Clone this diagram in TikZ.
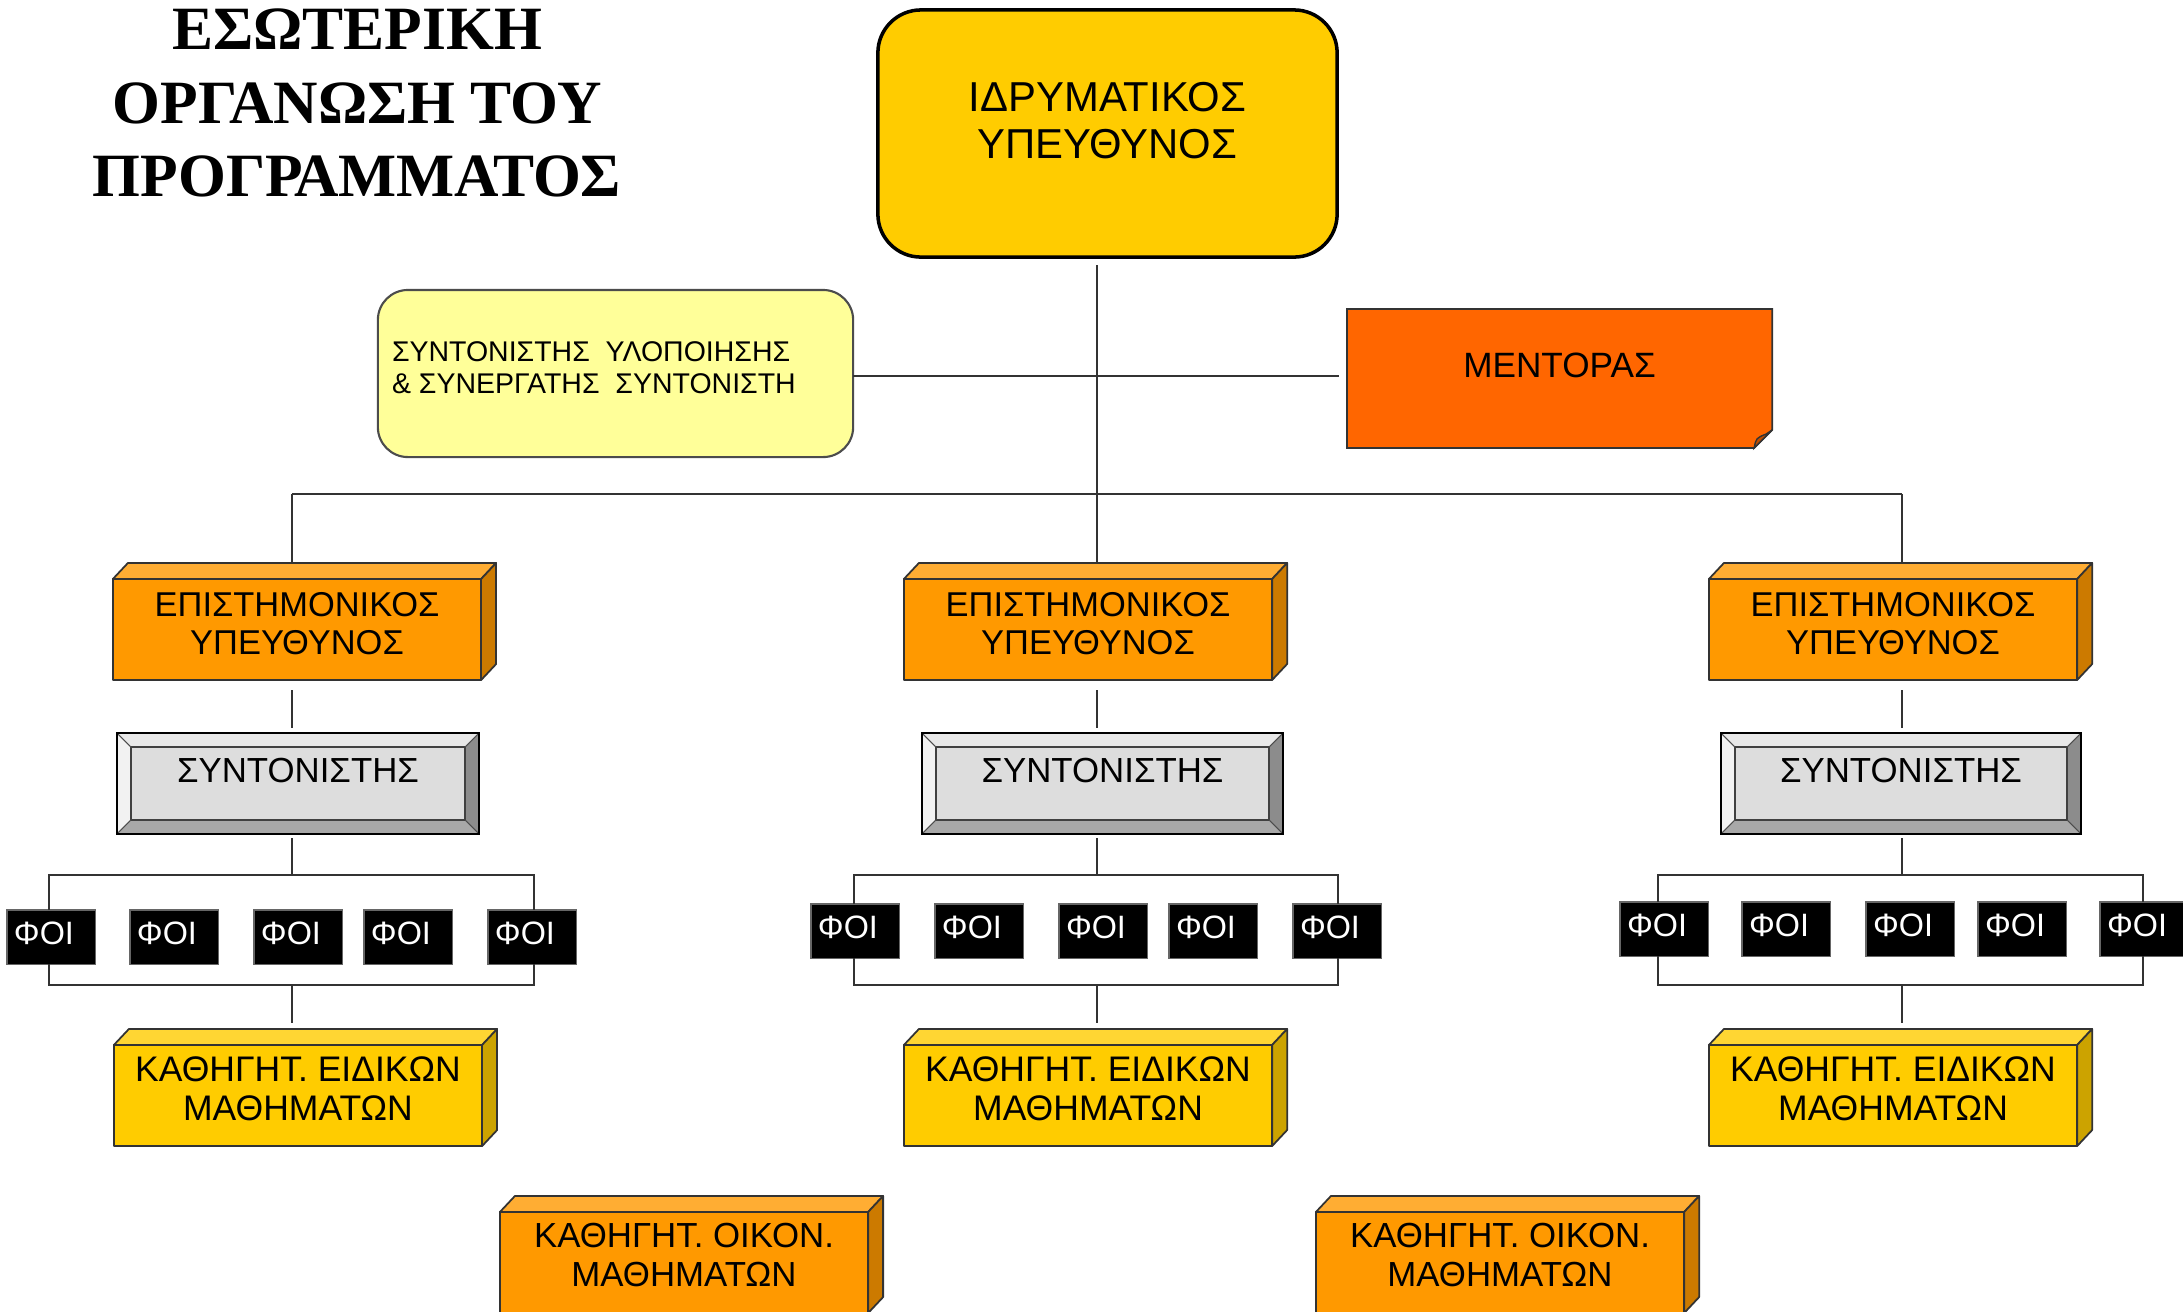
\documentclass[tikz,border=0pt]{standalone}
\usepackage{fontspec}
\setmainfont{Liberation Sans}
\newfontfamily\titlefont{Liberation Serif}
\usetikzlibrary{calc}
\definecolor{irfill}{HTML}{FFCC00}
\definecolor{yelfill}{HTML}{FFFF99}
\definecolor{mentfill}{HTML}{FF6600}
\definecolor{mentfold}{HTML}{C04D00}
\definecolor{orfront}{HTML}{FF9900}
\definecolor{ortop}{HTML}{FFAD33}
\definecolor{orside}{HTML}{CC7A00}
\definecolor{yefront}{HTML}{FFCC00}
\definecolor{yetop}{HTML}{FFD633}
\definecolor{yeside}{HTML}{CCA300}
\definecolor{bvface}{HTML}{DDDDDD}
\definecolor{bvtopc}{HTML}{E8E8E8}
\definecolor{bvleftc}{HTML}{F2F2F2}
\definecolor{bvrightc}{HTML}{8C8C8C}
\definecolor{bvbotc}{HTML}{A8A8A8}
\definecolor{linec}{HTML}{333333}
\newcommand\myfs[2]{\fontsize{#1}{#2}\selectfont}
\newcommand\cubefaces[3]{%
  \filldraw[fill=#2,cubeedge] (#1.north west) -- ++(15,-16) -- ($(#1.north east)+(15,-16)$) -- (#1.north east) -- cycle;
  \filldraw[fill=#3,cubeedge] (#1.north east) -- ++(15,-16) -- ($(#1.south east)+(15,-16)$) -- (#1.south east) -- cycle;}
\newcommand\bevelfaces[1]{%
  \fill[bvtopc] (#1.north west) -- (#1.north east) -- ($(#1.north east)+(-14,14)$) -- ($(#1.north west)+(14,14)$) -- cycle;
  \fill[bvleftc] (#1.north west) -- ($(#1.north west)+(14,14)$) -- ($(#1.south west)+(14,-14)$) -- (#1.south west) -- cycle;
  \fill[bvrightc] (#1.north east) -- ($(#1.north east)+(-14,14)$) -- ($(#1.south east)+(-14,-14)$) -- (#1.south east) -- cycle;
  \fill[bvbotc] (#1.south west) -- ($(#1.south west)+(14,-14)$) -- ($(#1.south east)+(-14,-14)$) -- (#1.south east) -- cycle;
  \filldraw[fill=bvface,draw=black!75,line width=0.4pt] ($(#1.north west)+(14,14)$) rectangle ($(#1.south east)+(-14,-14)$);
  \draw[black!70,line width=0.3pt] (#1.north west) -- ($(#1.north west)+(14,14)$) (#1.north east) -- ($(#1.north east)+(-14,14)$) (#1.south west) -- ($(#1.south west)+(14,-14)$) (#1.south east) -- ($(#1.south east)+(-14,-14)$);
  \draw[black,line width=0.6pt] (#1.north west) rectangle (#1.south east);}
\tikzset{
  conn/.style={draw=linec,line width=0.6pt},
  cubeedge/.style={draw=black!80,line width=0.5pt,line join=round},
  basebox/.style={outer sep=0pt,inner sep=0pt,align=center},
  epibox/.style={basebox,fill=orfront,cubeedge,minimum width=3.68cm,minimum height=1.01cm,font=\myfs{9.8}{10.8},text depth=0.13cm},
  kathbox/.style={basebox,fill=yefront,cubeedge,minimum width=3.68cm,minimum height=1.01cm,font=\myfs{10.1}{11.1},text depth=0.14cm},
  oikbox/.style={basebox,fill=orfront,cubeedge,minimum width=3.68cm,minimum height=1.01cm,font=\myfs{9.9}{11.1},text depth=0.16cm},
  syntbox/.style={basebox,minimum height=1.01cm,font=\myfs{9.9}{11},text depth=0.26cm},
  foibox/.style={outer sep=0pt,inner xsep=0.07cm,inner ysep=0pt,fill=black,draw=black!60,line width=0.3pt,
     minimum width=0.88cm,text width=0.74cm,align=left,minimum height=0.54cm,text=white,font=\myfs{9.2}{10},text depth=0.08cm},
}
\begin{document}
\begin{tikzpicture}[x=0.01cm,y=-0.01cm]
\useasboundingbox (0,0) rectangle (2183,1311);
\fill[white] (0,0) rectangle (2183,1311);

% title
\node[basebox,font={\titlefont\bfseries\myfs{17.5}{21}}] (title) at (357,103) {ΕΣΩΤΕΡΙΚΗ\\ΟΡΓΑΝΩΣΗ ΤΟΥ\\ΠΡΟΓΡΑΜΜΑΤΟΣ};

% top box
\node[basebox,fill=irfill,draw=black,line width=1pt,rounded corners=0.43cm,minimum width=4.59cm,minimum height=2.47cm,
  font=\myfs{11.9}{13.4},text depth=0.26cm] (ir) at (1107.5,133.5) {ΙΔΡΥΜΑΤΙΚΟΣ\\ΥΠΕΥΘΥΝΟΣ};

% implementation coordinator
\node[outer sep=0pt,inner sep=0pt,fill=yelfill,draw=black!70,line width=0.6pt,rounded corners=0.3cm,
  minimum width=4.75cm,minimum height=1.67cm] (yel) at (615.5,373.5) {};
\node[outer sep=0pt,inner sep=0pt,anchor=west,align=left,font=\myfs{8.1}{9.1}] (yeltxt) at (392,368)
  {ΣΥΝΤΟΝΙΣΤΗΣ\ \ ΥΛΟΠΟΙΗΣΗΣ\\\&\ ΣΥΝΕΡΓΑΤΗΣ\ \ ΣΥΝΤΟΝΙΣΤΗ};

% mentor
\node[basebox,minimum width=4.25cm,minimum height=1.39cm] (ment) at (1559.5,378.5) {};
\filldraw[fill=mentfill,draw=black!80,line width=0.5pt] (ment.north west) -- (ment.north east) -- ($(ment.south east)+(0,-18)$) -- ($(ment.south east)+(-18,0)$) -- (ment.south west) -- cycle;
\filldraw[fill=mentfold,draw=black!80,line width=0.4pt] ($(ment.south east)+(0,-18)$) -- ($(ment.south east)+(-18,0)$) .. controls ($(ment.south east)+(-16,-10)$) .. ($(ment.south east)+(-6,-14)$) -- cycle;
\node[basebox,font=\myfs{10}{11},text depth=0.27cm] (menttxt) at (ment.center) {ΜΕΝΤΟΡΑΣ};

% connectors at top
\coordinate (bus1) at (292,494);
\coordinate (bus2) at (1097,494);
\coordinate (bus3) at (1902,494);
\coordinate (hj) at (1097,376);
\draw[conn] ($(ir.south -| bus2)+(0,8)$) -- (bus2);
\draw[conn] (yel.east |- hj) -- ($(ment.west |- hj)+(-8,0)$);
\draw[conn] (bus1) -- (bus3);

% columns
\node[epibox] (epi1) at (297,629.5) {ΕΠΙΣΤΗΜΟΝΙΚΟΣ\\ΥΠΕΥΘΥΝΟΣ};
\node[epibox] (epi2) at (1088,629.5) {ΕΠΙΣΤΗΜΟΝΙΚΟΣ\\ΥΠΕΥΘΥΝΟΣ};
\node[epibox] (epi3) at (1893,629.5) {ΕΠΙΣΤΗΜΟΝΙΚΟΣ\\ΥΠΕΥΘΥΝΟΣ};
\cubefaces{epi1}{ortop}{orside}
\cubefaces{epi2}{ortop}{orside}
\cubefaces{epi3}{ortop}{orside}

\node[syntbox,minimum width=3.62cm] (synt1) at (298,783.5) {};
\node[syntbox,minimum width=3.61cm] (synt2) at (1102.5,783.5) {};
\node[syntbox,minimum width=3.60cm] (synt3) at (1901,783.5) {};
\bevelfaces{synt1}
\bevelfaces{synt2}
\bevelfaces{synt3}
\node[syntbox] (synt1t) at (synt1.center) {ΣΥΝΤΟΝΙΣΤΗΣ};
\node[syntbox] (synt2t) at (synt2.center) {ΣΥΝΤΟΝΙΣΤΗΣ};
\node[syntbox] (synt3t) at (synt3.center) {ΣΥΝΤΟΝΙΣΤΗΣ};

\node[kathbox] (kath1) at (298,1095.5) {ΚΑΘΗΓΗΤ. ΕΙΔΙΚΩΝ\\ΜΑΘΗΜΑΤΩΝ};
\node[kathbox] (kath2) at (1088,1095.5) {ΚΑΘΗΓΗΤ. ΕΙΔΙΚΩΝ\\ΜΑΘΗΜΑΤΩΝ};
\node[kathbox] (kath3) at (1893,1095.5) {ΚΑΘΗΓΗΤ. ΕΙΔΙΚΩΝ\\ΜΑΘΗΜΑΤΩΝ};
\cubefaces{kath1}{yetop}{yeside}
\cubefaces{kath2}{yetop}{yeside}
\cubefaces{kath3}{yetop}{yeside}

\node[oikbox] (oik1) at (684,1262.5) {ΚΑΘΗΓΗΤ. ΟΙΚΟΝ.\\ΜΑΘΗΜΑΤΩΝ};
\node[oikbox] (oik2) at (1500,1262.5) {ΚΑΘΗΓΗΤ. ΟΙΚΟΝ.\\ΜΑΘΗΜΑΤΩΝ};
\cubefaces{oik1}{ortop}{orside}
\cubefaces{oik2}{ortop}{orside}

% FOI rows
\foreach \c/\yt/\xa/\xb/\xc/\xd/\xe in {1/910/7/130/254/364/488, 2/904/811/935/1059/1169/1293, 3/902/1620/1742/1866/1978/2100}{
  \node[foibox] (foi\c a) at (\xa+44,\yt+27) {ΦΟΙ};
  \node[foibox] (foi\c b) at (\xb+44,\yt+27) {ΦΟΙ};
  \node[foibox] (foi\c c) at (\xc+44,\yt+27) {ΦΟΙ};
  \node[foibox] (foi\c d) at (\xd+44,\yt+27) {ΦΟΙ};
  \node[foibox] (foi\c e) at (\xe+44,\yt+27) {ΦΟΙ};
}

% column connectors
\foreach \c/\bx/\fl/\fr in {1/292/49/534, 2/1097/854/1338, 3/1902/1658/2143}{
  \coordinate (ft\c) at (\bx,875);
  \coordinate (fb\c) at (\bx,985);
  \coordinate (ftl\c) at (\fl,875);
  \coordinate (ftr\c) at (\fr,875);
  \coordinate (fbl\c) at (\fl,985);
  \coordinate (fbr\c) at (\fr,985);
  \draw[conn] (bus\c) -- ($(epi\c.north -| bus\c)+(0,-16)$);
  \draw[conn] ($(epi\c.south -| bus\c)+(0,10)$) -- ($(synt\c.north -| bus\c)+(0,-5)$);
  \draw[conn] ($(synt\c.south -| bus\c)+(0,4)$) -- (ft\c);
  \draw[conn] (foi\c a.north -| ftl\c) -- (ftl\c) -- (ftr\c) -- (foi\c e.north -| ftr\c);
  \draw[conn] (foi\c a.south -| fbl\c) -- (fbl\c) -- (fbr\c) -- (foi\c e.south -| fbr\c);
  \draw[conn] (fb\c) -- ($(kath\c.north -| fb\c)+(0,-22)$);
}
\end{tikzpicture}
\end{document}
